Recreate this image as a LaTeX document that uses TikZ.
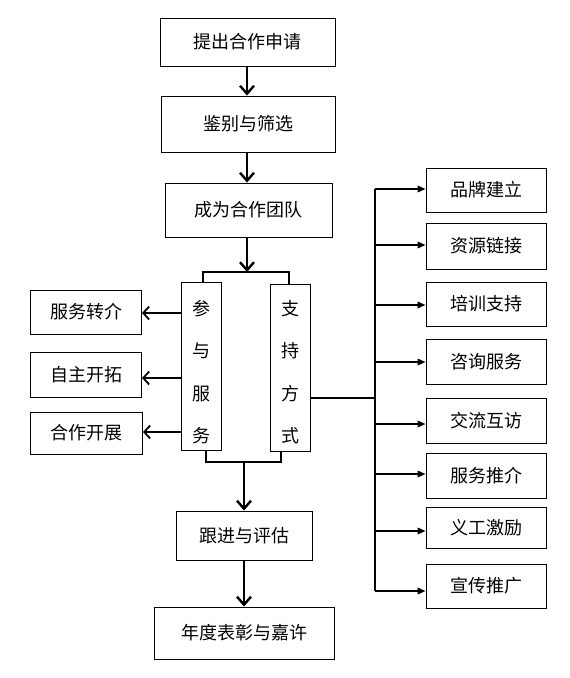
\documentclass[tikz,border=0pt]{standalone}
\usepackage{fontspec}
\newfontfamily\cjk{Noto Sans CJK SC}
\usetikzlibrary{arrows.meta}
\tikzset{
  box/.style={draw, line width=0.9pt, rectangle, inner sep=0pt, font=\cjk\fontsize{18}{21}\selectfont},
  vtext/.style={inner sep=0pt, align=center, font=\cjk\fontsize{18}{42.5}\selectfont},
  vbox/.style={draw, line width=0.9pt, rectangle, inner sep=0pt},
  mainarrow/.style={line width=2.4pt, -{Straight Barb[length=8pt,width=14pt,line width=2.4pt]}},
  leftarrow/.style={line width=1.5pt, -{Straight Barb[length=6pt,width=13pt,line width=1.8pt]}},
  rightarrow/.style={line width=1.8pt, -{Triangle[length=8pt,width=6.5pt]}},
  bracket/.style={line width=2.4pt},
}
\begin{document}
\begin{tikzpicture}[x=1pt,y=-1pt]
\useasboundingbox (0,0) rectangle (570,678);
\fill[white] (0,0) rectangle (570,678);
% main column
\node[box, minimum width=175pt, minimum height=48pt] (a) at (247.5,42) {提出合作申请};
\node[box, minimum width=174pt, minimum height=56pt] (b) at (248,124) {鉴别与筛选};
\node[box, minimum width=167pt, minimum height=54pt] (c) at (248.5,210) {成为合作团队};
\node[vbox, minimum width=40pt, minimum height=168pt] (p) at (201,366) {};
\node[vtext] (pt) at (201,372) {参\\与\\服\\务};
\node[vbox, minimum width=40pt, minimum height=167pt] (s) at (290,367.5) {};
\node[vtext] (st) at (290,372) {支\\持\\方\\式};
\node[box, minimum width=136pt, minimum height=49pt] (d) at (244,535.5) {跟进与评估};
\node[box, minimum width=180pt, minimum height=52pt] (e) at (244,633) {年度表彰与嘉许};
% left boxes
\node[box, minimum width=111pt, minimum height=44pt] (l1) at (86,312) {服务转介};
\node[box, minimum width=111pt, minimum height=45pt] (l2) at (86,374.5) {自主开拓};
\node[box, minimum width=112pt, minimum height=42pt] (l3) at (86.5,433) {合作开展};
% right boxes
\node[box, minimum width=120pt, minimum height=44pt] (r1) at (486,190) {品牌建立};
\node[box, minimum width=120pt, minimum height=46pt] (r2) at (486,246) {资源链接};
\node[box, minimum width=120pt, minimum height=44pt] (r3) at (486,304) {培训支持};
\node[box, minimum width=120pt, minimum height=45pt] (r4) at (486,361.5) {咨询服务};
\node[box, minimum width=120pt, minimum height=45pt] (r5) at (486,420.5) {交流互访};
\node[box, minimum width=120pt, minimum height=45pt] (r6) at (486,475.5) {服务推介};
\node[box, minimum width=120pt, minimum height=41pt] (r7) at (486,527.5) {义工激励};
\node[box, minimum width=120pt, minimum height=44pt] (r8) at (486,586) {宣传推广};
% coordinates
\coordinate (tb) at (247,272);
\coordinate (bb) at (244,462);
\coordinate (sp) at (375,398);
\coordinate (spt) at (375,189);
\coordinate (spb) at (375,591);
% arrows main
\draw[mainarrow] (a.south -| 247,0) -- (b.north -| 247,0);
\draw[mainarrow] (b.south -| 247,0) -- (c.north -| 247,0);
\draw[mainarrow] (c.south -| tb) -- (tb);
\draw[bracket] (203,283) -- (203,272) -- (289,272) -- (289,284);
\draw[bracket] (206,450) -- (206,462) -- (281,462) -- (281,451);
\draw[mainarrow] (bb) -- (d.north -| bb);
\draw[mainarrow] (d) -- (e);
% left arrows
\draw[leftarrow] (p.west |- 0,313) -- (l1.east |- 0,313);
\draw[leftarrow] (p.west |- 0,378) -- (l2.east |- 0,378);
\draw[leftarrow] (p.west |- 0,432) -- (l3.east |- 0,432);
% right tree
\draw[line width=1.8pt] (s.east |- sp) -- (sp);
\draw[line width=1.8pt] (spt) -- (spb);
\draw[rightarrow] (spt |- 0,189) -- (r1.west |- 0,189);
\draw[rightarrow] (spt |- 0,245) -- (r2.west |- 0,245);
\draw[rightarrow] (spt |- 0,305) -- (r3.west |- 0,305);
\draw[rightarrow] (spt |- 0,362) -- (r4.west |- 0,362);
\draw[rightarrow] (spt |- 0,424) -- (r5.west |- 0,424);
\draw[rightarrow] (spt |- 0,474) -- (r6.west |- 0,474);
\draw[rightarrow] (spt |- 0,531) -- (r7.west |- 0,531);
\draw[rightarrow] (spt |- 0,591) -- (r8.west |- 0,591);
\end{tikzpicture}
\end{document}
